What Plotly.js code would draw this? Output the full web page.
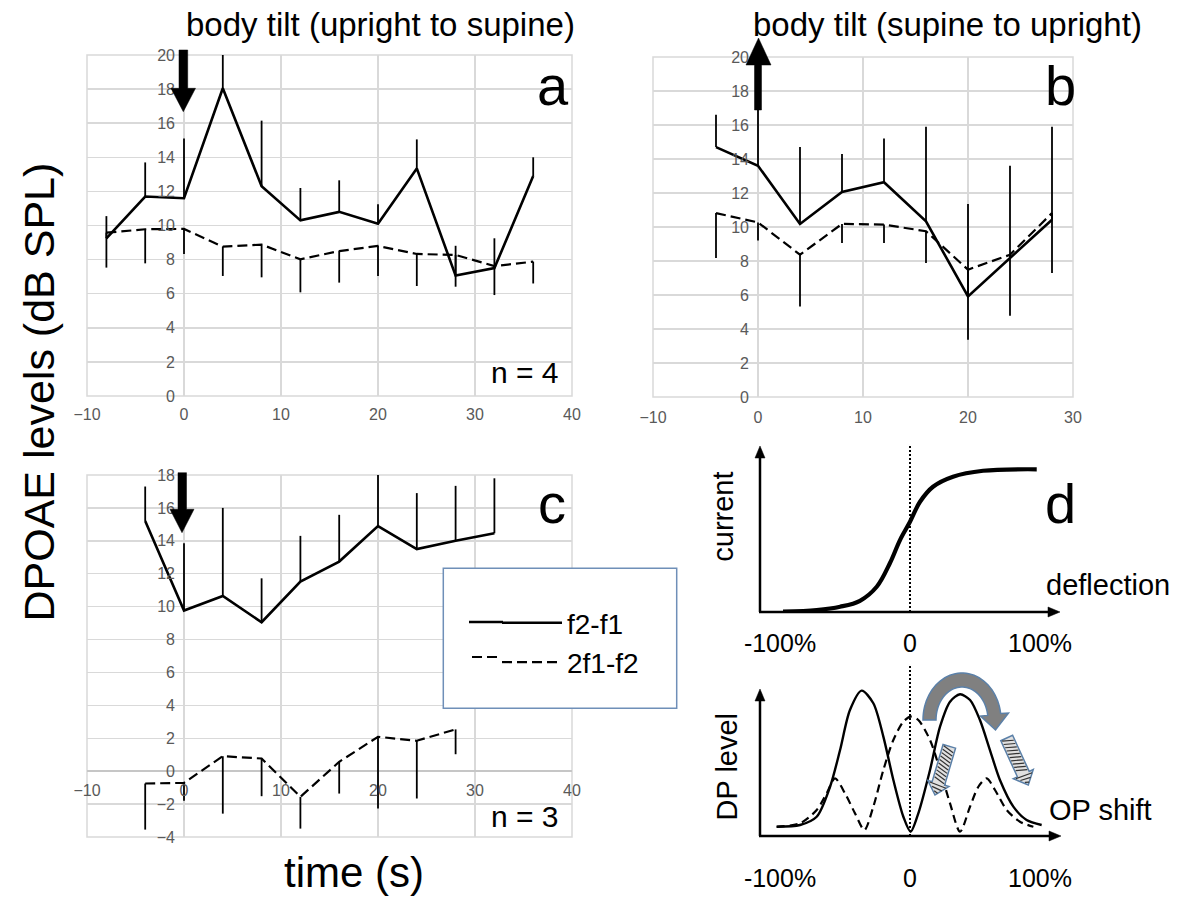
<!DOCTYPE html>
<html><head><meta charset="utf-8">
<script src="https://cdn.plot.ly/plotly-3.0.1.min.js"></script>
<style>html,body{margin:0;padding:0;background:#fff}</style>
</head><body><div id="chart" style="width:1183px;height:897px"></div>
<script>
// ---------- DATA ----------
// panel a : upright -> supine (n = 4)
const timeA      = [-8, -4, 0, 4, 8, 12, 16, 20, 24, 28, 32, 36];
const f2f1A      = [9.25, 11.7, 11.6, 18.05, 12.3, 10.3, 10.8, 10.1, 13.35, 7.06, 7.5, 12.9];
const f2f1ErrA   = [1.3, 2.0, 3.5, 2.15, 3.85, 1.9, 1.85, 1.15, 1.7, 1.75, 1.75, 1.1];
const dp2f1A     = [9.58, 9.78, 9.8, 8.76, 8.88, 8.02, 8.5, 8.8, 8.33, 8.27, 7.62, 7.88];
const dp2f1ErrA  = [2.05, 2.0, 1.47, 1.72, 1.92, 1.94, 1.85, 1.76, 1.88, 1.86, 1.7, 1.28];
// panel b : supine -> upright
const timeB      = [-4, 0, 4, 8, 12, 16, 20, 24, 28];
const f2f1B      = [14.7, 13.6, 10.18, 12.06, 12.63, 10.33, 5.92, 8.18, 10.43];
const f2f1ErrB   = [1.9, 3.3, 4.52, 2.24, 2.57, 5.57, 5.43, 5.42, 5.47];
const dp2f1B     = [10.82, 10.27, 8.37, 10.18, 10.14, 9.75, 7.49, 8.37, 10.82];
const dp2f1ErrB  = [2.64, 1.07, 3.04, 1.12, 1.08, 1.87, 4.12, 3.59, 3.52];
// panel c : upright -> supine (n = 3)
const timeC      = [-4, 0, 4, 8, 12, 16, 20, 24, 28, 32];
const f2f1C      = [15.2, 9.76, 10.65, 9.05, 11.52, 12.74, 14.9, 13.5, 14.0, 14.46];
const f2f1ErrC   = [2.1, 4.09, 5.35, 2.67, 2.78, 2.84, 3.4, 3.4, 3.34, 3.34];
const timeC2     = [-4, 0, 4, 8, 12, 16, 20, 24, 28];
const dp2f1C     = [-0.75, -0.71, 0.91, 0.77, -1.56, 0.57, 2.09, 1.85, 2.54];
const dp2f1ErrC  = [2.8, 1.09, 3.49, 2.29, 1.93, 1.93, 4.36, 3.51, 1.51];
// panel d (schematic) : transducer current vs deflection (%)
const deflection = [-97.7, -71.8, -53.8, -38.5, -25.6, -15.4, -7.7, 0, 7.7, 17.7, 33.1, 56.2, 97.5];
const current    = [0.002, 0.012, 0.032, 0.068, 0.153, 0.297, 0.436, 0.547, 0.668, 0.759, 0.82, 0.856, 0.865];
// panel d (schematic) : DP level vs operating-point shift (%)
const opShiftS   = [-102.6, -84.6, -71.8, -61.5, -53.8, -46.2, -37.2, -28.2, -20.5, -12.8, -5.1, 0.5, 6.4, 15.4, 23.1, 30.8, 38.5, 46.2, 53.8, 61.5, 69.2, 79.5, 89.7, 101.3];
const dpLevelS   = [0.063, 0.075, 0.131, 0.335, 0.585, 0.857, 0.989, 0.903, 0.676, 0.381, 0.131, 0.029, 0.154, 0.449, 0.744, 0.914, 0.964, 0.925, 0.789, 0.585, 0.381, 0.2, 0.109, 0.075];
const opShiftD   = [-102.6, -84.6, -71.8, -64.1, -57.7, -50, -42.3, -35.1, -28.2, -20.5, -12.8, -5.1, 0.5, 6.4, 15.4, 23.1, 30.8, 38.5, 46.2, 52.6, 59, 65.4, 74.4, 84.6, 94.9];
const dpLevelD   = [0.063, 0.086, 0.177, 0.29, 0.392, 0.29, 0.154, 0.041, 0.2, 0.449, 0.653, 0.778, 0.812, 0.789, 0.653, 0.449, 0.222, 0.029, 0.2, 0.335, 0.392, 0.313, 0.177, 0.097, 0.063];
const pctTicks   = [-100, 0, 100];
const pctLabels  = ['-100%', '0', '100%'];
const seriesNames = ['f2-f1', '2f1-f2'];

// ---------- LAYOUT HELPERS ----------
const W = 1183, H = 897;
const FONT = 'Liberation Sans, Arial, sans-serif';
const px = x => x / W;
const py = y => 1 - y / H;
const dom = (a, b) => [px(a), px(b)];
const domY = (top, bottom) => [py(bottom), py(top)];
const poly = pts => 'M' + pts.map(p => px(p[0]).toFixed(5) + ',' + py(p[1]).toFixed(5)).join('L') + 'Z';
const line = pts => 'M' + pts.map(p => px(p[0]).toFixed(5) + ',' + py(p[1]).toFixed(5)).join('L');
const zeros = arr => arr.map(() => 0);

const PA = {x0: 87, x1: 572, y0: 55, y1: 396};
const PB = {x0: 653, x1: 1073, y0: 57, y1: 397};
const PC = {x0: 87, x1: 572, y0: 475, y1: 837};

const gridCol = '#d9d9d9';
const tickFont = {family: FONT, size: 16, color: '#595959'};
const SOLID_W = 2.6, DASH_W = 2.2, DASH = '10px,5px';

function xAx(p, range, anchor, extra) {
  return Object.assign({domain: dom(p.x0, p.x1), range: range, dtick: 10, tick0: 0, anchor: anchor,
    showgrid: true, gridcolor: gridCol, gridwidth: 1.5, zeroline: false, showline: false,
    ticks: '', tickfont: tickFont, ticklabelstandoff: 7, fixedrange: true}, extra || {});
}
function yAx(p, range, xr, extra) {
  const pos = px(p.x0 + (0 - xr[0]) / (xr[1] - xr[0]) * (p.x1 - p.x0));
  return Object.assign({domain: domY(p.y0, p.y1), range: range, dtick: 2, tick0: 0, anchor: 'free', position: pos,
    showgrid: true, gridcolor: gridCol, gridwidth: 1.5, zeroline: false, showline: false,
    ticks: '', tickfont: tickFont, ticklabelstandoff: 9, fixedrange: true}, extra || {});
}

function solid(x, y, err, xa, ya, legend) {
  return {x: x, y: y, type: 'scatter', mode: 'lines', name: seriesNames[0], showlegend: !!legend,
    xaxis: xa, yaxis: ya, cliponaxis: false, line: {color: '#000', width: SOLID_W},
    error_y: {type: 'data', symmetric: false, array: err, arrayminus: zeros(err), width: 0, thickness: 1.8, color: '#000'}};
}
function dashed(x, y, err, xa, ya, legend) {
  return {x: x, y: y, type: 'scatter', mode: 'lines', name: seriesNames[1], showlegend: !!legend,
    xaxis: xa, yaxis: ya, cliponaxis: false, line: {color: '#000', width: DASH_W, dash: DASH},
    error_y: {type: 'data', symmetric: false, array: zeros(err), arrayminus: err, width: 0, thickness: 1.8, color: '#000'}};
}

const traces = [
  solid(timeA, f2f1A, f2f1ErrA, 'x', 'y', true),
  dashed(timeA, dp2f1A, dp2f1ErrA, 'x', 'y', true),
  solid(timeB, f2f1B, f2f1ErrB, 'x2', 'y2'),
  dashed(timeB, dp2f1B, dp2f1ErrB, 'x2', 'y2'),
  solid(timeC, f2f1C, f2f1ErrC, 'x3', 'y3'),
  dashed(timeC2, dp2f1C, dp2f1ErrC, 'x3', 'y3'),
  {x: deflection, y: current, type: 'scatter', mode: 'lines', showlegend: false, xaxis: 'x4', yaxis: 'y4',
   line: {color: '#000', width: 4.2, shape: 'spline', smoothing: 1}},
  {x: opShiftS, y: dpLevelS, type: 'scatter', mode: 'lines', showlegend: false, xaxis: 'x5', yaxis: 'y5',
   line: {color: '#000', width: 2.4, shape: 'spline', smoothing: 0.8}},
  {x: opShiftD, y: dpLevelD, type: 'scatter', mode: 'lines', showlegend: false, xaxis: 'x5', yaxis: 'y5',
   line: {color: '#000', width: 2.2, dash: '8px,5px', shape: 'spline', smoothing: 0.8}}
];

// ---------- decorations ----------
const shapes = [];
// plot borders
[PA, PB, PC].forEach(p => shapes.push({type: 'rect', xref: 'paper', yref: 'paper', layer: 'below',
  x0: px(p.x0), x1: px(p.x1), y0: py(p.y1), y1: py(p.y0), line: {color: gridCol, width: 1.5}}));
// tilt arrows
const blk = {fillcolor: '#000', line: {color: '#000', width: 0.5}, layer: 'above', xref: 'paper', yref: 'paper', type: 'path'};
shapes.push(Object.assign({path: poly([[179,50],[187.7,50],[187.7,88.3],[195.5,88.3],[183.3,111.7],[171,88.3],[179,88.3]])}, blk));
shapes.push(Object.assign({path: poly([[754.5,110],[761.5,110],[761.5,65],[771,65],[758.5,38],[746,65],[754.5,65]])}, blk));
shapes.push(Object.assign({path: poly([[178,472.7],[186.5,472.7],[186.5,509.3],[194,509.3],[182,532.7],[170,509.3],[178,509.3]])}, blk));
// legend box
shapes.push({type: 'rect', xref: 'paper', yref: 'paper', layer: 'above', x0: px(443.3), x1: px(676.7), y0: py(708.3), y1: py(568.3),
  fillcolor: '#fff', line: {color: '#6f8fb8', width: 1.5}});
// longer legend samples (extend the legend's own symbols to the left)
shapes.push({type: 'path', xref: 'paper', yref: 'paper', layer: 'above', path: line([[469, 622], [503, 622]]), line: {color: '#000', width: SOLID_W}});
shapes.push({type: 'path', xref: 'paper', yref: 'paper', layer: 'above', path: line([[472, 657], [502, 657]]), line: {color: '#000', width: DASH_W, dash: DASH}});
// panel d axes arrows
function axisArrow(a, b) {
  shapes.push({type: 'path', xref: 'paper', yref: 'paper', layer: 'above', path: line([a, b]), line: {color: '#000', width: 2.5}});
}
function head(tip, dir) {
  let pts;
  if (dir === 'up') pts = [[tip[0], tip[1]], [tip[0] + 5, tip[1] + 12], [tip[0] - 5, tip[1] + 12]];
  else pts = [[tip[0], tip[1]], [tip[0] - 12, tip[1] - 5], [tip[0] - 12, tip[1] + 5]];
  shapes.push(Object.assign({path: poly(pts)}, blk));
}
axisArrow([760, 612], [760, 455]); head([760, 446], 'up');
axisArrow([759, 612], [1050, 612]); head([1060, 612], 'right');
axisArrow([760, 836], [760, 698]); head([760, 689], 'up');
axisArrow([759, 836], [1051, 836]); head([1061, 836], 'right');
// dotted zero lines
shapes.push({type: 'line', xref: 'x4', yref: 'y4', x0: 0, x1: 0, y0: 0, y1: 1.01, line: {color: '#000', width: 2, dash: '2px,2px'}});
shapes.push({type: 'line', xref: 'x5', yref: 'y5', x0: 0, x1: 0, y0: 0, y1: 1.163, line: {color: '#000', width: 2, dash: '2px,2px'}});
// grey curved arrow
(function () {
  const cx = 962, cy = 720, pts = [];
  for (let a = 180; a >= 8; a -= 4) { const r = a * Math.PI / 180; pts.push([cx + 39 * Math.cos(r), cy - 47 * Math.sin(r)]); }
  pts.push([1008.5, 713], [995.5, 730], [980.5, 716]);
  for (let a = 8; a <= 180; a += 4) { const r = a * Math.PI / 180; pts.push([cx + 26 * Math.cos(r), cy - 33 * Math.sin(r)]); }
  shapes.push({type: 'path', xref: 'paper', yref: 'paper', layer: 'above', path: poly(pts), fillcolor: '#808080', line: {color: '#5b80a8', width: 1.5}});
})();
// hatched arrows
function hatched(T, tip) {
  const dx = tip[0] - T[0], dy = tip[1] - T[1], L = Math.hypot(dx, dy);
  const u = [dx / L, dy / L], n = [-u[1], u[0]];
  const hw = 6.5, hh = 11, hl = 12, sl = L - hl;
  const P = (s, k) => [T[0] + u[0] * s + n[0] * k, T[1] + u[1] * s + n[1] * k];
  const pts = [P(0, hw), P(sl, hw), P(sl, hh), tip, P(sl, -hh), P(sl, -hw), P(0, -hw)];
  shapes.push({type: 'path', xref: 'paper', yref: 'paper', layer: 'above', path: poly(pts), fillcolor: '#e0e0e0', line: {color: '#5b80a8', width: 1.5}});
  for (let s = 1; s + 4 <= sl; s += 3.6) {
    shapes.push({type: 'path', xref: 'paper', yref: 'paper', layer: 'above', path: line([P(s, hw - 1), P(s + 4, -hw + 1)]), line: {color: '#333', width: 1.2}});
  }
  for (let s = sl + 1; s < L - 3; s += 3.6) {
    const k = hh * (L - s) / hl - 1.5;
    shapes.push({type: 'path', xref: 'paper', yref: 'paper', layer: 'above', path: line([P(s, k), P(s + 1.5, -k)]), line: {color: '#333', width: 1.2}});
  }
}
hatched([949.3, 746.3], [935, 795]);
hatched([1006.7, 738], [1028.3, 785]);

// ---------- text annotations ----------
function txt(t, x, y, size, extra) {
  return Object.assign({text: t, xref: 'paper', yref: 'paper', x: px(x), y: py(y), xanchor: 'center', yanchor: 'middle',
    showarrow: false, font: {family: FONT, size: size, color: '#000'}}, extra || {});
}
const annotations = [
  txt('body tilt (upright to supine)', 380, 24.5, 33),
  txt('body tilt (supine to upright)', 947.5, 24.5, 33),
  txt('a', 553, 85.4, 56), txt('b', 1060, 85.4, 56), txt('c', 552, 503.4, 56), txt('d', 1060.7, 503.7, 56),
  txt('n = 4', 525, 372.5, 30), txt('n = 3', 525, 816, 30),
  txt('DPOAE levels (dB SPL)', 38, 392.5, 43, {textangle: -90}),
  txt('time (s)', 354, 872, 42),
  txt('current', 723, 516.7, 29, {textangle: -90}),
  txt('deflection', 1108, 585, 29),
  txt('DP level', 726.7, 766.7, 29, {textangle: -90}),
  txt('OP shift', 1100, 810, 29)
];

const layout = {
  width: W, height: H, margin: {l: 0, r: 0, t: 0, b: 0}, paper_bgcolor: '#fff', plot_bgcolor: 'rgba(0,0,0,0)',
  font: {family: FONT, color: '#000'},
  showlegend: true,
  legend: {x: px(497), y: py(598), xanchor: 'left', yanchor: 'top', bgcolor: 'rgba(0,0,0,0)', borderwidth: 0,
    font: {family: FONT, size: 28, color: '#000'}, itemwidth: 60, tracegroupgap: 0},
  xaxis: xAx(PA, [-10, 40], 'y'),
  yaxis: yAx(PA, [0, 20], [-10, 40]),
  xaxis2: xAx(PB, [-10, 30], 'y2', {ticklabelstandoff: 9}),
  yaxis2: yAx(PB, [0, 20], [-10, 30]),
  xaxis3: xAx(PC, [-10, 40], 'free', {position: py(PC.y1 - 4 / 22 * (PC.y1 - PC.y0)), ticklabelstandoff: 8}),
  yaxis3: yAx(PC, [-4, 18], [-10, 40], {zeroline: true, zerolinecolor: '#c6c6c6', zerolinewidth: 1.5}),
  xaxis4: {domain: dom(760, 1060), range: [-115.4, 115.4], anchor: 'y4', tickvals: pctTicks, ticktext: pctLabels,
    showgrid: false, zeroline: false, showline: false, ticks: '', ticklabelstandoff: 14,
    tickfont: {family: FONT, size: 25, color: '#000'}, fixedrange: true},
  yaxis4: {domain: domY(440, 612), range: [0, 172 / 165], visible: false, fixedrange: true},
  xaxis5: {domain: dom(760, 1060), range: [-115.4, 115.4], anchor: 'y5', tickvals: pctTicks, ticktext: pctLabels,
    showgrid: false, zeroline: false, showline: false, ticks: '', ticklabelstandoff: 25,
    tickfont: {family: FONT, size: 25, color: '#000'}, fixedrange: true},
  yaxis5: {domain: domY(660, 836), range: [0, 176 / 147], visible: false, fixedrange: true},
  shapes: shapes,
  annotations: annotations
};

Plotly.newPlot('chart', traces, layout, {staticPlot: true, displayModeBar: false});
</script>
</body></html>
